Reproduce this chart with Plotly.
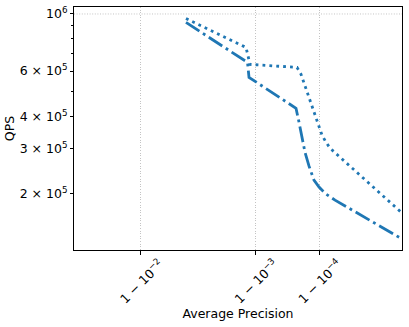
import numpy as np
import plotly.graph_objects as go

# 読み取った値（Average Precision, QPS）
ap_dotted = [0.995147, 0.998700, 0.998833, 0.999745, 0.999782, 0.9999121, 0.9999274, 0.9999406, 0.9999997]
qps_dotted = [960600, 741800, 637100, 620200, 582700, 338100, 317600, 301100, 168600]

ap_dashdot = [0.995147, 0.998752, 0.998801, 0.999735, 0.999764, 0.999790, 0.999814, 0.999843,
              0.999873, 0.999899, 0.9999274, 0.9999541, 0.9999997]
qps_dashdot = [927000, 648600, 567400, 430200, 379700, 332100, 290500, 256400,
               226300, 212600, 199800, 189300, 133700]

x_tick_ap = [0.99, 0.999, 0.9999]
x_tick_text = ["1 − 10<sup>−2</sup>", "1 − 10<sup>−3</sup>", "1 − 10<sup>−4</sup>"]

y_tick_vals = [2e5, 3e5, 4e5, 6e5, 1e6]
y_tick_text = ["2 × 10<sup>5</sup>", "3 × 10<sup>5</sup>", "4 × 10<sup>5</sup>", "6 × 10<sup>5</sup>", "10<sup>6</sup>"]
y_minor_vals = [5e5, 7e5, 8e5, 9e5]


def ap_scale(ap):
    # 1-AP の桁数に対するべき乗スケール
    u = -np.log10(1 - np.asarray(ap, dtype=float))
    return -u ** -0.7


FONT = dict(family="DejaVu Sans", size=12.5, color="black")
BLUE = "#1f77b4"
GRID = "#c4c4c4"

fig = go.Figure()

fig.add_trace(go.Scatter(
    x=ap_scale(ap_dotted), y=qps_dotted, mode="lines",
    line=dict(color=BLUE, width=2.8, dash="2.8px,4.1px"),
    showlegend=False,
))
fig.add_trace(go.Scatter(
    x=ap_scale(ap_dashdot), y=qps_dashdot, mode="lines",
    line=dict(color=BLUE, width=2.8, dash="16px,4.2px,2.8px,4.2px"),
    showlegend=False,
))

fig.add_hline(y=1e6, line=dict(color=GRID, width=1, dash="1px,1.6px"), layer="below")

fig.update_xaxes(
    range=[-0.7045, -0.2691],
    tickmode="array", tickvals=ap_scale(x_tick_ap), ticktext=x_tick_text,
    tickangle=-45, ticks="outside", ticklen=4, tickcolor="black",
    ticklabelstandoff=-3, ticklabelshift=19,
    showgrid=True, gridcolor=GRID, gridwidth=1, griddash="1px,1.6px",
    showline=True, linecolor="black", linewidth=1, mirror=True,
    zeroline=False, tickfont=FONT, automargin=False,
    title=dict(text="Average Precision", font=FONT, standoff=2),
)
fig.update_yaxes(
    type="log", range=[5.0833, 6.0271],
    tickmode="array", tickvals=y_tick_vals, ticktext=y_tick_text,
    ticks="outside", ticklen=3, tickcolor="black",
    minor=dict(tickmode="array", tickvals=y_minor_vals, ticks="outside", ticklen=2, tickcolor="black", showgrid=False),
    showgrid=False,
    showline=True, linecolor="black", linewidth=1, mirror=True,
    zeroline=False, tickfont=FONT, automargin=False,
    title=dict(text="QPS", font=FONT, standoff=2),
)

fig.update_layout(
    width=409, height=327,
    margin=dict(l=74, r=7, t=7, b=77),
    plot_bgcolor="white", paper_bgcolor="white",
    font=FONT,
)

# ページ既定の余白を消す
fig.write_html("out.html", config={"displayModeBar": False},
               post_script="document.body.style.margin='0px';")
